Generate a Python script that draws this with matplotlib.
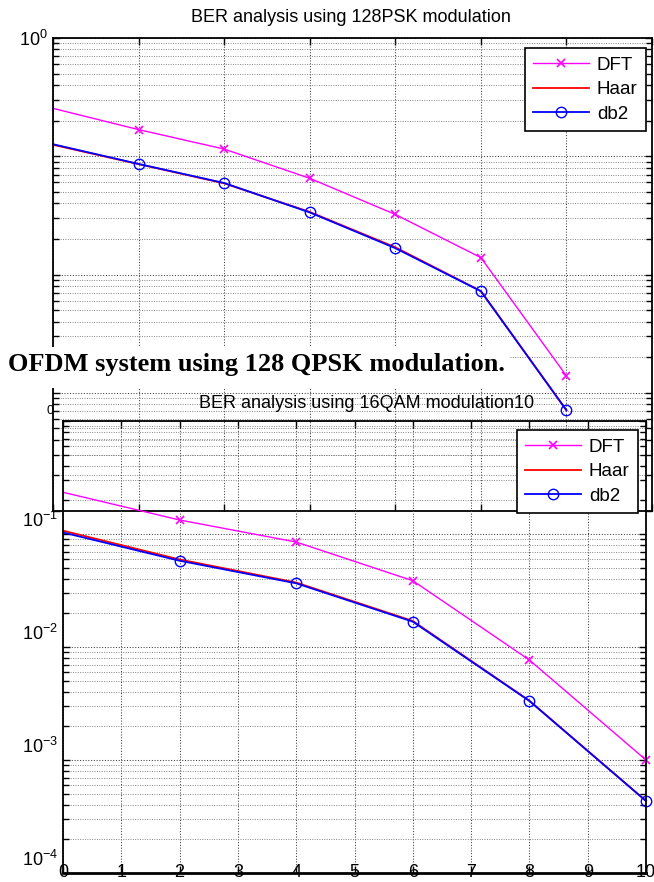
import matplotlib.pyplot as plt
from matplotlib.patches import Rectangle
from matplotlib.ticker import LogLocator, NullFormatter
from matplotlib.transforms import ScaledTranslation

# top figure: 128PSK
snr_psk = [0, 2, 4, 6, 8, 10, 12]
ber_dft_psk = [0.254, 0.168, 0.115, 0.0651, 0.0322, 0.0139, 0.00139]
ber_haar_psk = [0.125, 0.0858, 0.0590, 0.0338, 0.0170, 0.00725, 0.00071]
ber_db2_psk = [0.1264, 0.0861, 0.0594, 0.0335, 0.0167, 0.00722, 0.000713]

# bottom figure: 16QAM
snr_qam = [0, 2, 4, 6, 8, 10]
ber_dft_qam = [0.234, 0.133, 0.0849, 0.0386, 0.00767, 0.00100]
ber_haar_qam = [0.107, 0.0595, 0.0372, 0.0170, 0.00335, 0.000434]
ber_db2_qam = [0.1031, 0.0580, 0.0366, 0.01675, 0.00333, 0.000434]

decades = [1e-4, 1e-3, 1e-2, 1e-1, 1e0]
ylabels_psk = ['', '', '', '', r'$10^{0}$']
ylabels_qam = [r'$10^{-4}$', r'$10^{-3}$', r'$10^{-2}$', r'$10^{-1}$', '']
names = ['DFT', 'Haar', 'db2']

title_psk = 'BER analysis using 128PSK modulation'
title_qam = 'BER analysis using 16QAM modulation10'
caption = 'OFDM system using 128 QPSK modulation.'

W, H = 654, 882
plt.rcParams['font.family'] = ['Liberation Sans', 'DejaVu Sans']
plt.rcParams['mathtext.default'] = 'regular'


def box(l, t, r, b):
    return [l / W, 1 - b / H, (r - l) / W, (b - t) / H]


def style_axes(ax, xmax, xstep, ylabels):
    ax.set_yscale('log')
    ax.set_xlim(0, xmax)
    ax.set_ylim(1e-4, 1)
    ax.set_xticks(range(0, xmax + 1, xstep))
    ax.set_yticks(decades, ylabels)
    ax.yaxis.set_minor_locator(LogLocator(base=10, subs=range(2, 10), numticks=10))
    ax.yaxis.set_minor_formatter(NullFormatter())
    ax.tick_params(which='both', direction='in', top=True, right=True,
                   width=1, labelsize=13)
    ax.tick_params(which='major', length=5)
    ax.tick_params(which='minor', length=4)
    ax.grid(True, which='major', ls=':', color='0.25', lw=0.75)
    ax.grid(True, which='minor', axis='y', ls=':', color='0.45', lw=0.65)
    for s in ax.spines.values():
        s.set_linewidth(1.3)


def draw_lines(ax, x, dft, haar, db2):
    ax.plot(x, dft, color='#ff00ff', marker='x', ms=6, mew=1.2, lw=1,
            label='DFT', markevery=slice(1, None), clip_on=False)
    ax.plot(x, haar, color='#ff0000', lw=1.3, label='Haar', clip_on=False)
    ax.plot(x, db2, color='#0000ff', marker='o', mfc='none', ms=7.5, lw=1.3,
            label='db2', markevery=slice(1, None), clip_on=False)


def add_legend(ax, right, top):
    leg = ax.legend(loc='upper right', bbox_to_anchor=(right / W, 1 - top / H),
                    bbox_transform=fig.transFigure, borderaxespad=0,
                    fontsize=13.5, fancybox=False, framealpha=1,
                    edgecolor='black', handlelength=3.0, handletextpad=0.4,
                    labelspacing=0.4, borderpad=0.45)
    leg.get_frame().set_linewidth(1.2)
    return leg


fig = plt.figure(figsize=(W / 100, H / 100), dpi=100)

# top axes (128PSK)
ax1 = fig.add_axes(box(53, 38, 652, 511))
style_axes(ax1, 14, 2, ylabels_psk)
ax1.tick_params(labelbottom=False)
draw_lines(ax1, snr_psk, ber_dft_psk, ber_haar_psk, ber_db2_psk)
add_legend(ax1, 646, 48)
fig.text(351 / W, 1 - 17 / H, title_psk, ha='center', va='center', fontsize=13)

# bottom axes (16QAM), transparent so the top one shows through
ax2 = fig.add_axes(box(63, 421, 646, 873))
ax2.patch.set_alpha(0)
style_axes(ax2, 10, 1, ylabels_qam)
ax2.tick_params(axis='x', pad=-6.5)
ax2.spines['bottom'].set_linewidth(2)
draw_lines(ax2, snr_qam, ber_dft_qam, ber_haar_qam, ber_db2_qam)
add_legend(ax2, 638, 430)
shift = ScaledTranslation(0, 0.15, fig.dpi_scale_trans)
for lbl in ax2.get_yticklabels():
    lbl.set_transform(lbl.get_transform() + shift)
fig.text(199 / W, 1 - 403 / H, title_qam, ha='left', va='center', fontsize=13)
fig.text(50 / W, 1 - 411 / H, '0', ha='center', va='center', fontsize=9)

# caption pasted over the top figure
fig.patches.append(Rectangle((0, 1 - 388 / H), 510 / W, 41 / H,
                             transform=fig.transFigure, facecolor='white',
                             edgecolor='none', zorder=1))
fig.text(8 / W, 1 - 364 / H, caption, ha='left', va='center', fontsize=19,
         family='Liberation Serif', weight='bold', zorder=3)

fig.savefig('out.png', dpi=100)
